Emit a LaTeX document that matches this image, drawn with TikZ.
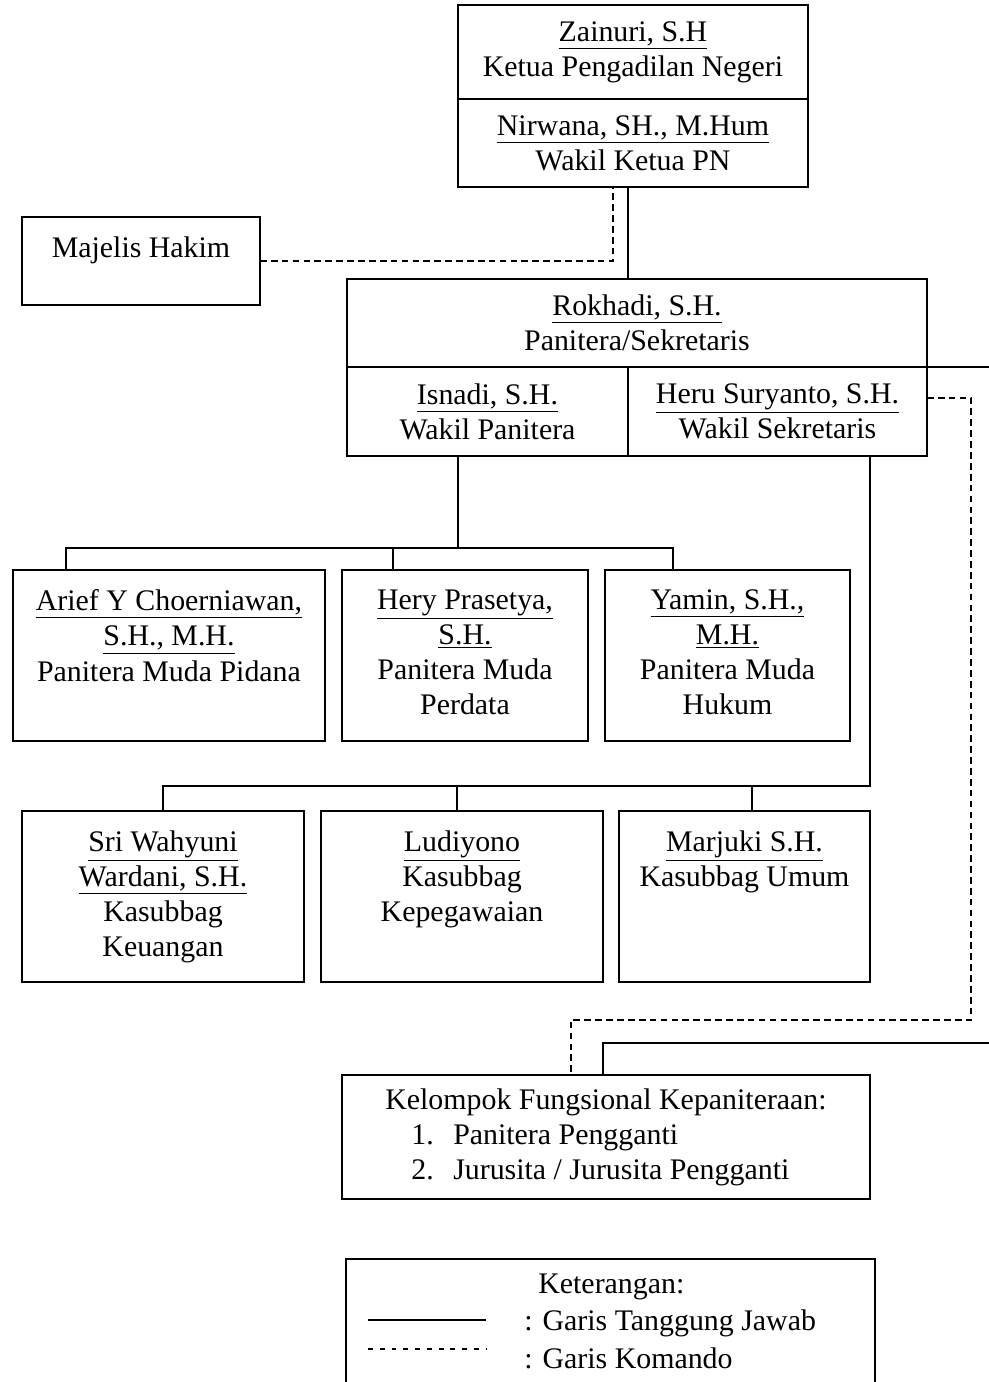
\documentclass[tikz,border=0pt]{standalone}
\usepackage{fontspec}
\setmainfont{Liberation Serif}
\usetikzlibrary{calc}

\begin{document}
\begin{tikzpicture}[
  font=\fontsize{17}{20}\selectfont,
  box/.style={draw, line width=1.6pt, align=center, inner sep=0pt, outer sep=0pt},
  lines/.style={align=center, inner sep=0pt, anchor=north, yshift=-11pt},
  conn/.style={line width=0.8pt},
  cmd/.style={line width=0.8pt, dash pattern=on 3.8pt off 2.4pt}
]
\path[use as bounding box, clip] (0,0) rectangle (19.78,-27.64);

% pimpinan
\node[box, minimum width=7.0cm, minimum height=1.88cm] (zainuri) at (12.66,-1.04)
  {\underline{Zainuri, S.H}\\Ketua Pengadilan Negeri};
\node[box, minimum width=7.0cm, minimum height=1.76cm] (nirwana) at (12.66,-2.86)
  {\underline{Nirwana, SH., M.Hum}\\Wakil Ketua PN};

\node[box, minimum width=4.76cm, minimum height=1.76cm] (majelis) at (2.82,-5.22) {};
\node[lines] (majelisT) at (majelis.north) {Majelis Hakim};

% kepaniteraan / kesekretariatan
\node[box, minimum width=11.6cm, minimum height=1.76cm] (rokhadi) at (12.74,-6.46)
  {\underline{Rokhadi, S.H.}\\Panitera/Sekretaris};
\node[box, minimum width=5.62cm, minimum height=1.78cm] (isnadi) at (9.75,-8.23)
  {\underline{Isnadi, S.H.}\\Wakil Panitera};
\node[box, minimum width=5.98cm, minimum height=1.78cm] (heru) at (15.55,-8.23)
  {\underline{Heru Suryanto, S.H.}\\Wakil Sekretaris};

\draw[conn] (isnadi.east |- nirwana.south) -- (isnadi.east |- rokhadi.north);
\draw[cmd] (majelis.east) -| ($(nirwana.south)+(-0.4,0)$);

% panitera muda
\node[box, minimum width=6.24cm, minimum height=3.42cm] (arief) at (3.38,-13.11) {};
\node[lines] (ariefT) at (arief.north)
  {\underline{Arief Y Choerniawan,}\\\underline{S.H., M.H.}\\Panitera Muda Pidana};
\node[box, minimum width=4.92cm, minimum height=3.42cm] (hery) at (9.30,-13.11) {};
\node[lines] (heryT) at (hery.north)
  {\underline{Hery Prasetya,}\\\underline{S.H.}\\Panitera Muda\\Perdata};
\node[box, minimum width=4.90cm, minimum height=3.42cm] (yamin) at (14.55,-13.11) {};
\node[lines] (yaminT) at (yamin.north)
  {\underline{Yamin, S.H.,}\\\underline{M.H.}\\Panitera Muda\\Hukum};

\coordinate (busA) at (9.16,-10.96);
\draw[conn] (busA |- isnadi.south) -- (busA);
\draw[conn] ($(arief.north west)+(1.06,0)$) |- (busA)
  -| ($(yamin.north west)+(1.36,0)$);
\draw[conn] ($(hery.north west)+(1.02,0)$) |- (busA);

% kasubbag
\node[box, minimum width=5.64cm, minimum height=3.42cm] (sri) at (3.26,-17.93) {};
\node[lines] (sriT) at (sri.north)
  {\underline{Sri Wahyuni}\\\underline{Wardani, S.H.}\\Kasubbag\\Keuangan};
\node[box, minimum width=5.64cm, minimum height=3.42cm] (ludiyono) at (9.24,-17.93) {};
\node[lines] (ludiyonoT) at (ludiyono.north)
  {\underline{Ludiyono}\\Kasubbag\\Kepegawaian};
\node[box, minimum width=5.02cm, minimum height=3.42cm] (marjuki) at (14.89,-17.93) {};
\node[lines] (marjukiT) at (marjuki.north)
  {\underline{Marjuki S.H.}\\Kasubbag Umum};

\coordinate (busB) at (17.40,-15.72);
\draw[conn] (busB |- heru.south) -- (busB) -- (busB -| sri.north) -- (sri.north);
\draw[conn] ($(ludiyono.north)+(-0.1,0)$) -- ++(0,0.5);
\draw[conn] ($(marjuki.north)+(0.15,0)$) -- ++(0,0.5);

% fungsional
\node[box, align=left, minimum width=10.56cm, minimum height=2.48cm] (kelompok) at (12.12,-22.74)
  {Kelompok Fungsional Kepaniteraan:\\
   \hspace*{0.52cm}\makebox[0.84cm][l]{1.}Panitera Pengganti\\
   \hspace*{0.52cm}\makebox[0.84cm][l]{2.}Jurusita / Jurusita Pengganti};

\coordinate (edgeA) at (19.78,-7.34);
\coordinate (edgeB) at (19.78,-20.86);
\coordinate (turnA) at (19.42,-20.40);
\draw[conn] (rokhadi.south east) -- (rokhadi.south east -| edgeA);
\draw[conn] ($(kelompok.north)+(-0.06,0)$) |- (edgeB);
\draw[cmd] ($(heru.east)+(0,0.27)$) -| (turnA) -| ($(kelompok.north west)+(4.58,0)$);

% keterangan
\node[box, minimum width=10.58cm, minimum height=2.82cm] (legend) at (12.21,-26.59) {};
\node[anchor=west, inner sep=0pt] (ket) at (10.76,-25.74) {Keterangan:};
\node[anchor=west, inner sep=0pt] (tj) at (10.48,-26.46) {: Garis Tanggung Jawab};
\node[anchor=west, inner sep=0pt] (km) at (10.48,-27.16) {: Garis Komando};
\draw[conn] (7.36,-26.40) -- (9.72,-26.40);
\draw[conn, dash pattern=on 2.8pt off 3.9pt] (7.36,-26.98) -- (9.72,-26.98);

\end{tikzpicture}
\end{document}
